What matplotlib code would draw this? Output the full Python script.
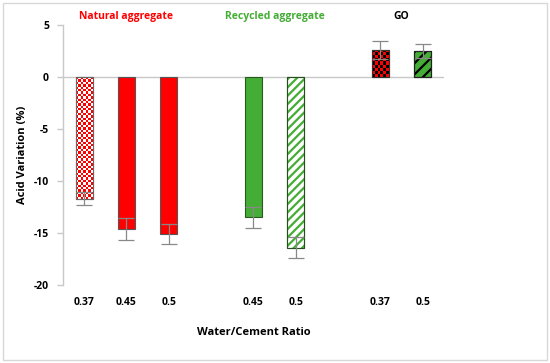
import numpy as np
import matplotlib
matplotlib.use('Agg')
import matplotlib.pyplot as plt
from matplotlib.patches import Rectangle

plt.rcParams['font.family'] = ['Open Sans', 'DejaVu Sans']
plt.rcParams['axes.unicode_minus'] = False
plt.rcParams['hatch.linewidth'] = 1.6

# data
positions = [0, 1, 2, 4, 5, 7, 8]
tick_labels = ['0.37', '0.45', '0.5', '0.45', '0.5', '0.37', '0.5']
values = [-11.7, -14.6, -15.1, -13.5, -16.4, 2.6, 2.5]
errors = [0.6, 1.05, 1.0, 1.0, 1.0, 0.85, 0.65]
groups = ['Natural aggregate', 'Recycled aggregate', 'GO']
group_centers = [1, 4.5, 7.5]

red = '#ff0000'
green = '#44ad35'
group_colors = [red, green, 'black']

fig = plt.figure(figsize=(5.5, 3.63), dpi=100)
ax = fig.add_axes([0.1145, 0.215, 0.6925, 0.716])

width = 0.4
bars = ax.bar(positions, values, width=width, zorder=2)

# styles per bar
styles = [
    dict(face='white', edge='#666666', hatch=None, checker=(red, 'white', 2.4)),
    dict(face=red, edge='#555555', hatch=None, checker=None),
    dict(face=red, edge='#555555', hatch=None, checker=None),
    dict(face=green, edge='#2a5a22', hatch=None, checker=None),
    dict(face='white', edge='#2a4a22', hatch='////', hcolor=green, checker=None),
    dict(face=red, edge='#333333', hatch=None, checker=('black', red, 3.0)),
    dict(face=green, edge='#222222', hatch='///', hcolor='black', checker=None),
]

px_per_unit_x = (0.6925 * 550) / 9.0
px_per_unit_y = (0.716 * 363) / 25.0

for b, s in zip(bars, styles):
    b.set_facecolor(s['face'])
    b.set_linewidth(0.8)
    x0 = b.get_x()
    x1 = x0 + b.get_width()
    y0 = min(b.get_y(), b.get_y() + b.get_height())
    y1 = max(b.get_y(), b.get_y() + b.get_height())
    if s['hatch']:
        b.set_hatch(s['hatch'])
        b.set_edgecolor(s['hcolor'])
        ax.add_patch(Rectangle((x0, y0), x1 - x0, y1 - y0,
                               fill=False, edgecolor=s['edge'], linewidth=0.8, zorder=3))
    else:
        b.set_edgecolor(s['edge'])
    if s['checker']:
        c1, c2, sq = s['checker']
        nx = max(1, int(round((x1 - x0) * px_per_unit_x / sq)))
        ny = max(1, int(round((y1 - y0) * px_per_unit_y / sq)))
        grid = (np.add.outer(np.arange(ny), np.arange(nx)) % 2).astype(float)
        cmap = matplotlib.colors.ListedColormap([c1, c2])
        im = ax.imshow(grid, cmap=cmap, extent=(x0, x1, y0, y1), origin='lower',
                       interpolation='nearest', aspect='auto', zorder=2.5)
        im.set_clip_path(b)
        ax.add_patch(Rectangle((x0, y0), x1 - x0, y1 - y0, fill=False,
                               edgecolor=s['edge'], linewidth=0.8, zorder=3))

ax.errorbar(positions, values, yerr=errors, fmt='none', ecolor='#888888',
            elinewidth=0.9, capsize=6, capthick=0.9, zorder=4)

ax.set_xlim(-0.5, 8.5)
ax.set_ylim(-20, 5)
ax.axhline(0, color='#c8c8c8', linewidth=1.0, zorder=1)

for sp in ['top', 'right', 'bottom']:
    ax.spines[sp].set_visible(False)
ax.spines['left'].set_color('#c8c8c8')
ax.spines['left'].set_linewidth(1.0)

ax.set_yticks([5, 0, -5, -10, -15, -20])
ax.tick_params(axis='y', colors='#c8c8c8', length=4, width=1.0, labelcolor='black',
               labelsize=7.5, pad=6)
for t in ax.get_yticklabels():
    t.set_fontweight('bold')

ax.set_xticks(positions)
ax.set_xticklabels(tick_labels, fontsize=7.5, fontweight='bold')
ax.tick_params(axis='x', length=0, pad=9)

ax.set_xlabel('Water/Cement Ratio', fontsize=8, fontweight='bold', labelpad=13)
ax.set_ylabel('Acid Variation (%)', fontsize=8, fontweight='bold', labelpad=4)

for g, gx, gc in zip(groups, group_centers, group_colors):
    ax.text(gx, 5.85, g, color=gc, fontsize=7.5, fontweight='bold',
            ha='center', va='center', clip_on=False)

fig.patches.append(Rectangle((0.006, 0.008), 0.988, 0.984, transform=fig.transFigure,
                             fill=False, edgecolor='#d8d8d8', linewidth=1.0))

fig.savefig('out.png', dpi=100)
